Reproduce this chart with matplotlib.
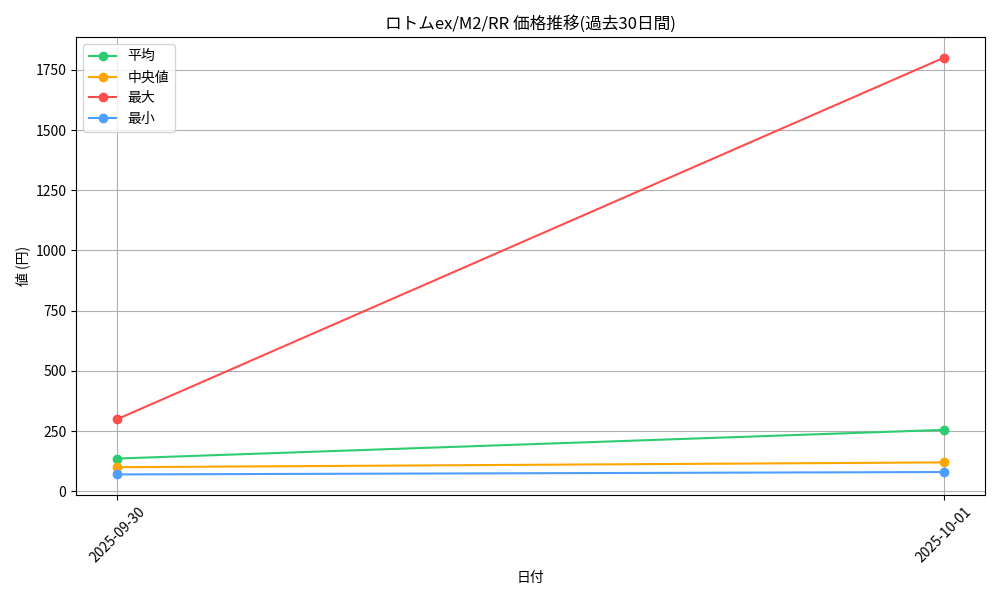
import matplotlib
matplotlib.use('Agg')
import matplotlib.pyplot as plt

plt.rcParams['font.family'] = ['Noto Sans CJK JP', 'DejaVu Sans']

# データ
dates = ['2025-09-30', '2025-10-01']
avg_prices = [136, 255]
median_prices = [100, 120]
max_prices = [300, 1800]
min_prices = [70, 80]

fig, ax = plt.subplots(figsize=(10, 6), dpi=100)

ax.plot(dates, avg_prices, marker='o', color='#2ecc71', label='平均')
ax.plot(dates, median_prices, marker='o', color='#ffa500', label='中央値')
ax.plot(dates, max_prices, marker='o', color='#ff4d4d', label='最大')
ax.plot(dates, min_prices, marker='o', color='#4d9fff', label='最小')

ax.set_title('ロトムex/M2/RR 価格推移(過去30日間)')
ax.set_xlabel('日付')
ax.set_ylabel('値 (円)')
ax.legend(loc='upper left')
ax.grid(True)
plt.xticks(rotation=45)

plt.tight_layout()
plt.savefig('out.png', dpi=100)
plt.close()
